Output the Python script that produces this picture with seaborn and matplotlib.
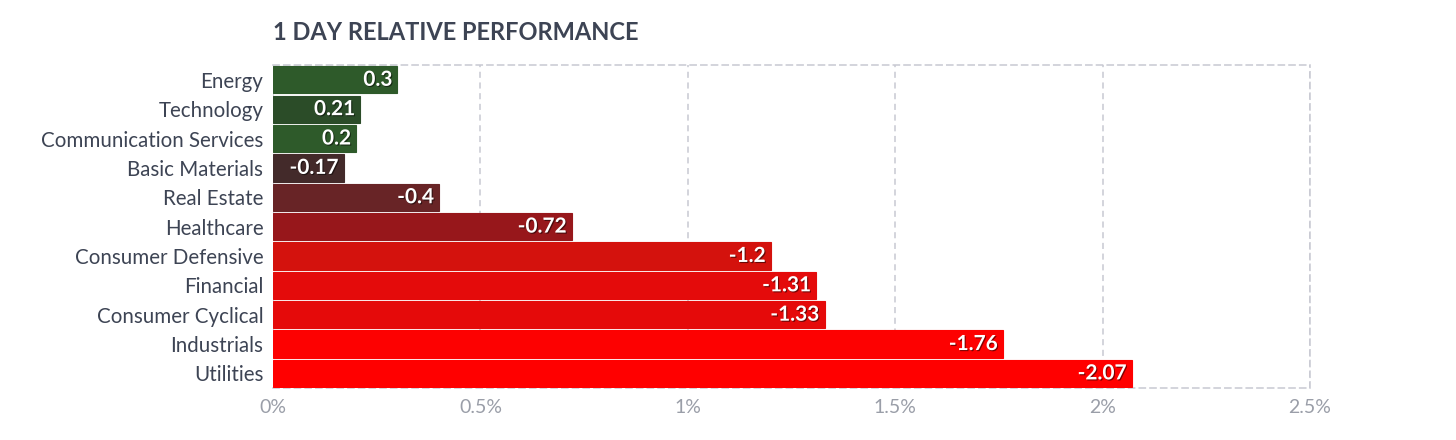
import pandas as pd
import numpy as np
import seaborn as sns
import matplotlib.pyplot as plt
import matplotlib.patheffects as pe

sectors = ['Energy', 'Technology', 'Communication Services', 'Basic Materials',
           'Real Estate', 'Healthcare', 'Consumer Defensive', 'Financial',
           'Consumer Cyclical', 'Industrials', 'Utilities']
changes = [0.3, 0.21, 0.2, -0.17, -0.4, -0.72, -1.2, -1.31, -1.33, -1.76, -2.07]
bar_colors = ['#2e5a2a', '#2b4c28', '#2e5a2a', '#432a2a', '#682426', '#97171b',
              '#d4120d', '#e40b0b', '#e50a0a', '#fd0101', '#ff0000']
x_ticks = [0, 0.5, 1, 1.5, 2, 2.5]
x_labels = ['0%', '0.5%', '1%', '1.5%', '2%', '2.5%']

df = pd.DataFrame({'sector': sectors, 'change': changes})
df['size'] = df['change'].abs()

sns.set_style('white')
plt.rcParams['font.family'] = ['Lato', 'DejaVu Sans']

fig = plt.figure(figsize=(14.56, 4.4), dpi=100)
ax = fig.add_axes([0.1875, 0.118, 0.7122, 0.734])

sns.barplot(data=df, x='size', y='sector', hue='sector', palette=bar_colors,
            saturation=1, legend=False, width=0.93, orient='h', ax=ax, zorder=3)
for patch, c in zip(ax.patches, bar_colors):
    patch.set_edgecolor(c)
    patch.set_linewidth(0.8)

for i, (v, s) in enumerate(zip(df['change'], df['size'])):
    ax.text(s - 0.012, i, f'{v:g}', ha='right', va='center', color='white',
            fontsize=15, fontweight='bold', zorder=5,
            path_effects=[pe.withSimplePatchShadow(offset=(0.8, -0.8),
                                                   shadow_rgbFace='#000000', alpha=0.5)])

ax.set_xlim(0, 2.5)
ax.set_ylim(len(sectors) - 0.5, -0.5)
ax.set_xticks(x_ticks)
ax.set_xticklabels(x_labels)
ax.set_xlabel('')
ax.set_ylabel('')
ax.tick_params(axis='x', colors='#9a9ea8', labelsize=14, length=0, pad=8)
ax.tick_params(axis='y', colors='#3d4454', labelsize=14.8, length=0, pad=7)
for lab in ax.get_yticklabels():
    lab.set_color('#3d4454')

grid_c = '#c8c9d2'
ax.grid(axis='x', color=grid_c, linestyle=(0, (4, 3)), linewidth=1.1, zorder=0)
ax.grid(axis='y', visible=False)
for side in ['top', 'right', 'bottom']:
    ax.spines[side].set_visible(True)
    ax.spines[side].set_color(grid_c)
    ax.spines[side].set_linestyle((0, (4, 3)))
    ax.spines[side].set_linewidth(1.1)
ax.spines['left'].set_visible(False)

fig.text(0.1875, 0.925, '1 DAY RELATIVE PERFORMANCE', fontsize=17,
         fontweight='bold', color='#3d4454', ha='left', va='center')

fig.savefig('out.png', dpi=100)
